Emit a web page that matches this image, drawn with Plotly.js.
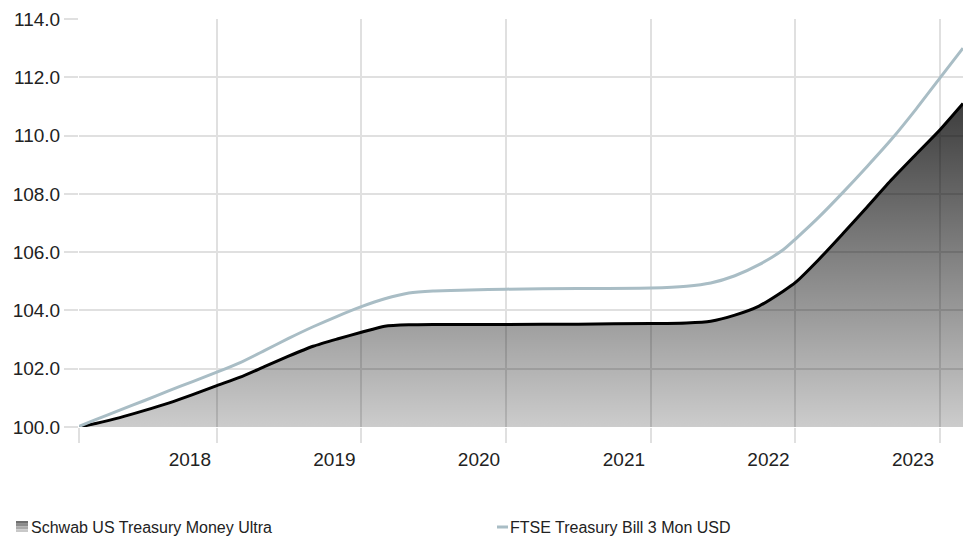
<!DOCTYPE html>
<html>
<head>
<meta charset="utf-8">
<script src="https://cdn.plot.ly/plotly-3.0.1.min.js"></script>
<style>
  html, body { margin: 0; padding: 0; background: #fff; }
  #chart { width: 963px; height: 539px; }
</style>
</head>
<body>
<div id="chart"></div>
<script>
// growth of 100
var dates = ['2017-01-18', '2017-03-01', '2017-05-01', '2017-07-01', '2017-09-01', '2017-11-01',
             '2018-01-01', '2018-03-01', '2018-05-01', '2018-07-01', '2018-09-01', '2018-11-01',
             '2019-01-01', '2019-03-01', '2019-05-01', '2019-07-01', '2019-10-01', '2020-01-01',
             '2020-07-01', '2021-01-01', '2021-04-01', '2021-06-01', '2021-08-01', '2021-10-01',
             '2021-12-01', '2022-01-01', '2022-03-01', '2022-05-01', '2022-07-01', '2022-09-01',
             '2022-11-01', '2023-01-01', '2023-02-28'];

var schwab = [100.0, 100.12, 100.32, 100.56, 100.82, 101.11,
              101.42, 101.71, 102.07, 102.43, 102.77, 103.02,
              103.25, 103.46, 103.51, 103.52, 103.52, 103.52,
              103.53, 103.55, 103.57, 103.63, 103.84, 104.15,
              104.66, 104.96, 105.75, 106.64, 107.55, 108.49,
              109.35, 110.2, 111.1];

var ftse = [100.02, 100.25, 100.58, 100.9, 101.24, 101.56,
            101.88, 102.21, 102.62, 103.04, 103.44, 103.8,
            104.13, 104.4, 104.6, 104.67, 104.7, 104.73,
            104.75, 104.77, 104.83, 104.94, 105.19, 105.57,
            106.08, 106.45, 107.2, 108.05, 108.94, 109.88,
            110.9, 111.98, 113.0];

var seriesNames = ['Schwab US Treasury Money Ultra', 'FTSE Treasury Bill 3 Mon USD'];

var yearTicks = ['2017-01-18', '2018-01-01', '2019-01-01', '2020-01-01', '2021-01-01', '2022-01-01', '2023-01-01'];
var yearLabels = ['', '2018', '2019', '2020', '2021', '2022', '2023'];

var gridColour = '#e0e0e0';
var ftseColour = '#a9bdc5';

var trace1 = {
    type: 'scatter',
    mode: 'lines',
    name: seriesNames[0],
    x: dates,
    y: schwab,
    fill: 'tozeroy',
    fillgradient: {
        type: 'vertical',
        start: 100,
        stop: 111.1,
        colorscale: [[0, 'rgba(0,0,0,0.2)'], [1, 'rgba(0,0,0,0.76)']]
    },
    line: {color: '#000000', width: 3, shape: 'spline', smoothing: 0.6}
};

var trace2 = {
    type: 'scatter',
    mode: 'lines',
    name: seriesNames[1],
    x: dates,
    y: ftse,
    line: {color: ftseColour, width: 3, shape: 'spline', smoothing: 0.6}
};

// legend drawn by hand at the bottom (plot area is 884 x 408 px, left 79, bottom 427)
function px(x) { return (x - 79) / 884; }
function py(y) { return (427 - y) / 408; }

var legendShapes = [];
var bandColours = ['#6e6e6e', '#8c8c8c', '#aaaaaa', '#c8c8c8'];
for (var i = 0; i < bandColours.length; i++) {
    legendShapes.push({
        type: 'rect', xref: 'paper', yref: 'paper', layer: 'above',
        x0: px(16), x1: px(28),
        y0: py(521 + (i + 1) * 2.75), y1: py(521 + i * 2.75),
        fillcolor: bandColours[i], line: {width: 0}
    });
}
legendShapes.push({
    type: 'line', xref: 'paper', yref: 'paper',
    x0: px(497), x1: px(508), y0: py(527), y1: py(527),
    line: {color: ftseColour, width: 3}
});

var legendText = [
    {text: seriesNames[0], xref: 'paper', yref: 'paper', x: px(29), y: py(527),
     xanchor: 'left', yanchor: 'middle', showarrow: false, font: {size: 16, color: '#222222'}},
    {text: seriesNames[1], xref: 'paper', yref: 'paper', x: px(508), y: py(527),
     xanchor: 'left', yanchor: 'middle', showarrow: false, font: {size: 16, color: '#222222'}}
];

var layout = {
    width: 963,
    height: 539,
    margin: {l: 79, r: 0, t: 19, b: 112},
    paper_bgcolor: '#ffffff',
    plot_bgcolor: '#ffffff',
    font: {family: 'Liberation Sans, Arial, sans-serif', color: '#222222'},
    showlegend: false,
    xaxis: {
        type: 'date',
        range: [dates[0], dates[dates.length - 1]],
        tickmode: 'array',
        tickvals: yearTicks,
        ticktext: yearLabels,
        ticks: 'outside',
        ticklen: 15,
        tickcolor: gridColour,
        tickwidth: 2,
        ticklabelshift: -27,
        showgrid: true,
        gridcolor: gridColour,
        gridwidth: 2,
        zeroline: false,
        showline: false,
        tickfont: {size: 19, color: '#222222'}
    },
    yaxis: {
        range: [100, 114],
        dtick: 2,
        tick0: 100,
        tickformat: '.1f',
        ticks: 'outside',
        ticklen: 14,
        tickcolor: gridColour,
        tickwidth: 2,
        showgrid: true,
        gridcolor: gridColour,
        gridwidth: 2,
        zeroline: false,
        showline: false,
        tickfont: {size: 19, color: '#222222'}
    },
    shapes: legendShapes,
    annotations: legendText
};

Plotly.newPlot('chart', [trace1, trace2], layout, {staticPlot: true, displayModeBar: false});
</script>
</body>
</html>
